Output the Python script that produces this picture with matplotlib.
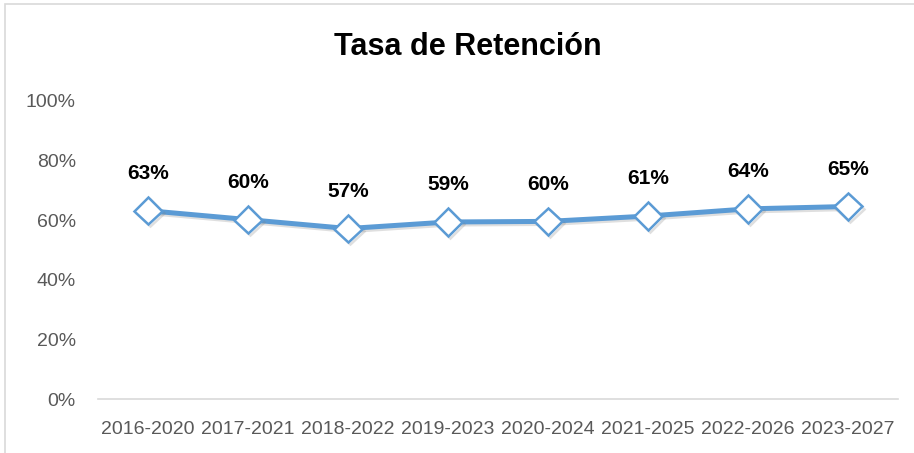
import matplotlib
matplotlib.use("Agg")
import matplotlib.pyplot as plt
import matplotlib.patheffects as pe

periodos = ["2016-2020", "2017-2021", "2018-2022", "2019-2023",
            "2020-2024", "2021-2025", "2022-2026", "2023-2027"]
tasa = [0.632, 0.602, 0.572, 0.594, 0.596, 0.614, 0.638, 0.646]
etiquetas = ["63%", "60%", "57%", "59%", "60%", "61%", "64%", "65%"]
yticks = [0, 0.2, 0.4, 0.6, 0.8, 1.0]
ytick_labels = ["0%", "20%", "40%", "60%", "80%", "100%"]

plt.rcParams["font.family"] = ["Liberation Sans", "DejaVu Sans"]

fig = plt.figure(figsize=(9.14, 4.53), dpi=100)
# marco gris del grafico
borde = plt.Rectangle((5 / 914, -0.1), 1.2, 1.1 - 4 / 453, transform=fig.transFigure,
                      fill=False, edgecolor="#D9D9D9", linewidth=1.2)
fig.patches.append(borde)

ax = fig.add_axes([98 / 914, 1 - 399 / 453, 800 / 914, 298 / 453])
x = list(range(len(periodos)))
sombra = [pe.SimpleLineShadow(offset=(1.5, -1.5), shadow_color="gray", alpha=0.25), pe.Normal()]
ax.plot(x, tasa, color="#5B9BD5", linewidth=3.6, marker="D", markersize=14,
        markerfacecolor="white", markeredgecolor="#5B9BD5", markeredgewidth=1.8,
        path_effects=sombra, zorder=3)

for xi, yi, t in zip(x, tasa, etiquetas):
    ax.annotate(t, (xi, yi), xytext=(0, 20), textcoords="offset points",
                ha="center", va="bottom", fontsize=15, fontweight="bold", color="black")

ax.set_xlim(-0.5, len(periodos) - 0.5)
ax.set_ylim(0, 1)
ax.set_xticks(x)
ax.set_xticklabels(periodos, fontsize=14, color="#595959")
ax.set_yticks(yticks)
ax.set_yticklabels(ytick_labels, fontsize=14, color="#595959")
ax.tick_params(length=0, pad=16)
ax.tick_params(axis="y", pad=16)
for s in ["top", "right", "left"]:
    ax.spines[s].set_visible(False)
ax.spines["bottom"].set_color("#D9D9D9")
ax.spines["bottom"].set_linewidth(1.2)

fig.text(468 / 914, 1 - 47 / 453, "Tasa de Retención", ha="center", va="center",
         fontsize=22, fontweight="bold", color="black")

fig.savefig("out.png", dpi=100)
